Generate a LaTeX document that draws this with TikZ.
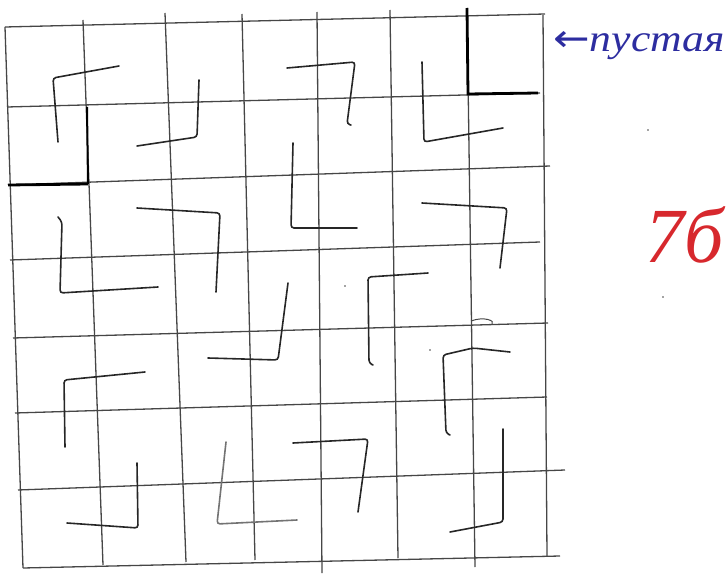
\documentclass[tikz,border=0pt]{standalone}
\usepackage{fontspec}
\setmainfont{Liberation Serif}
\newfontfamily\arrowfont{DejaVu Sans}
\usetikzlibrary{arrows}
\definecolor{pencil}{RGB}{70,70,70}
\definecolor{inkblue}{RGB}{45,45,160}
\definecolor{inkred}{RGB}{215,40,45}

\begin{document}
\begin{tikzpicture}[x=1pt,y=-1pt,
    gridline/.style={pencil, line width=1.3pt},
    cutline/.style={black, line width=2.8pt},
    tile/.style={black!85, line width=1.6pt, rounded corners=3pt, line cap=round}]
    \useasboundingbox (0,0) rectangle (728,575);

    % vertical lines
    \foreach \xa/\ya/\xb/\yb in {5/27/23/568, 83/20/103/565, 165/13/186/562, 242/14/255/560,
                                  317/12/322/573, 390/10/398/558, 467/8/475/567, 543/15/547/556}
    \draw[gridline] (\xa,\ya) -- (\xb,\yb);
    % horizontal lines
    \foreach \xa/\ya/\xb/\yb in {5/27/545/14, 7/107/540/93, 8/185/550/166, 10/260/540/242,
                                  13/338/548/323, 15/413/547/397, 18/490/565/470, 23/568/560/556}
    \draw[gridline] (\xa,\ya) -- (\xb,\yb);

    % the removed cell and the cut
    \draw[cutline] (467,8) -- (468,94) -- (538,93);
    \draw[cutline] (8,185) -- (88,184);
    \draw[line width=2pt] (87,107) -- (88,184);

    % row 1 and 2
    \draw[tile] (119,66) -- (53,78) -- (58,142);
    \draw[tile] (199,80) -- (197,137) -- (137,146);
    \draw[tile] (287,68) -- (355,62) -- (347,124) -- (351,125);
    \draw[tile] (422,62) -- (424,142) -- (503,128);
    \draw[tile] (293,143) -- (291,228) -- (357,228);
    % row 3 and 4
    \draw[tile] (58,217) -- (62,222) -- (60,293) -- (158,287);
    \draw[tile] (137,208) -- (220,213) -- (216,292);
    \draw[tile] (288,283) -- (278,360) -- (208,358);
    \draw[tile] (422,203) -- (507,208) -- (500,268);
    \draw[tile] (428,273) -- (368,277) -- (369,363) -- (373,365);
    % row 5 to 7
    \draw[tile] (145,372) -- (64,380) -- (65,447);
    \draw[tile] (510,352) -- (473,348) -- (443,355) -- (446,433) -- (450,435);
    \draw[tile] (137,463) -- (138,528) -- (67,523);
    \draw[tile, black!55] (226,442) -- (217,524) -- (297,520);
    \draw[tile] (293,443) -- (368,439) -- (358,512);
    \draw[tile] (503,429) -- (503,522) -- (450,532);

    \draw[pencil, line width=1pt] (471,321) .. controls (484,316) and (496,321) .. (492,324);
    \foreach \px/\py in {648/130, 663/297, 345/286, 430/350}
    \fill[pencil] (\px,\py) circle (0.9pt);

    \node[anchor=base west, inner sep=0pt, text=inkblue, xscale=1.15] (note) at (553,52)
        {\fontsize{38}{40}\selectfont{\arrowfont ←}\itshape пустая};
    \node[anchor=base west, inner sep=0pt, text=inkred] (mark) at (645,262)
        {\fontsize{78}{80}\selectfont\itshape 7б};
\end{tikzpicture}
\end{document}
